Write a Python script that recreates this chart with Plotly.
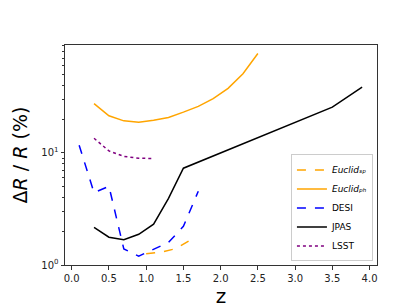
import plotly.graph_objects as go

# Data
euclid_sp_z = [1.0, 1.2, 1.4, 1.6]
euclid_sp_v = [1.26, 1.30, 1.40, 1.68]

euclid_ph_z = [0.3, 0.5, 0.7, 0.9, 1.1, 1.3, 1.5, 1.7, 1.9, 2.1, 2.3, 2.5]
euclid_ph_v = [27.5, 21.4, 19.3, 18.8, 19.5, 20.7, 23.1, 26.0, 30.4, 37.6, 50.8, 76.9]

desi_z = [0.1, 0.3, 0.5, 0.7, 0.9, 1.1, 1.3, 1.5, 1.7]
desi_v = [11.7, 4.41, 5.04, 1.39, 1.20, 1.38, 1.59, 2.21, 4.55]

jpas_z = [0.3, 0.5, 0.7, 0.9, 1.1, 1.3, 1.5, 3.5, 3.9]
jpas_v = [2.17, 1.77, 1.68, 1.88, 2.31, 3.93, 7.3, 25.6, 38.5]

lsst_z = [0.3, 0.5, 0.7, 0.9, 1.1]
lsst_v = [13.5, 10.4, 9.3, 8.96, 8.9]

x_ticks = [0.0, 0.5, 1.0, 1.5, 2.0, 2.5, 3.0, 3.5, 4.0]
y_ticks = [1, 10]
y_ticktext = ["10<sup>0</sup>", "10<sup>1</sup>"]
y_minor = [2, 3, 4, 5, 6, 7, 8, 9, 20, 30, 40, 50, 60, 70, 80, 90]

fig = go.Figure()
fig.add_trace(go.Scatter(x=euclid_sp_z, y=euclid_sp_v, mode="lines",
                         name="<i>Euclid\u209b\u209a</i>",
                         line=dict(color="orange", width=1.5, dash="dash")))
fig.add_trace(go.Scatter(x=euclid_ph_z, y=euclid_ph_v, mode="lines",
                         name="<i>Euclid\u209a\u2095</i>",
                         line=dict(color="orange", width=1.5)))
fig.add_trace(go.Scatter(x=desi_z, y=desi_v, mode="lines", name="DESI",
                         line=dict(color="blue", width=1.5, dash="dash")))
fig.add_trace(go.Scatter(x=jpas_z, y=jpas_v, mode="lines", name="JPAS",
                         line=dict(color="black", width=1.5)))
fig.add_trace(go.Scatter(x=lsst_z, y=lsst_v, mode="lines", name="LSST",
                         line=dict(color="purple", width=1.5, dash="dot")))

axis_common = dict(showgrid=False, zeroline=False, showline=True, linecolor="#333333",
                   linewidth=1, mirror=True, ticks="outside", ticklen=3.5, tickwidth=1,
                   tickcolor="#333333",
                   tickfont=dict(family="DejaVu Sans", size=10, color="#222222"))

fig.update_layout(
    width=411, height=308,
    margin=dict(l=52, r=42, t=37, b=35),
    paper_bgcolor="white", plot_bgcolor="white",
    font=dict(family="DejaVu Sans", color="black"),
    xaxis=dict(range=[-0.09, 4.1], tickvals=x_ticks,
               ticktext=[f"{v:.1f}" for v in x_ticks],
               title=dict(text="z", font=dict(size=20), standoff=6),
               **axis_common),
    yaxis=dict(type="log", range=[0, 1.962], tickvals=y_ticks, ticktext=y_ticktext,
               minor=dict(tickvals=y_minor, ticks="outside", ticklen=2, tickcolor="#333333"),
               title=dict(text="Δ<i>R</i> / <i>R</i> (%)", font=dict(size=19), standoff=8),
               **axis_common),
    legend=dict(x=0.987, y=0.016, xanchor="right", yanchor="bottom",
                bgcolor="rgba(255,255,255,0.8)", bordercolor="#cccccc", borderwidth=1,
                font=dict(family="DejaVu Sans", size=9), tracegroupgap=0,
                itemwidth=30),
    showlegend=True,
)

fig.write_html("out.html")
